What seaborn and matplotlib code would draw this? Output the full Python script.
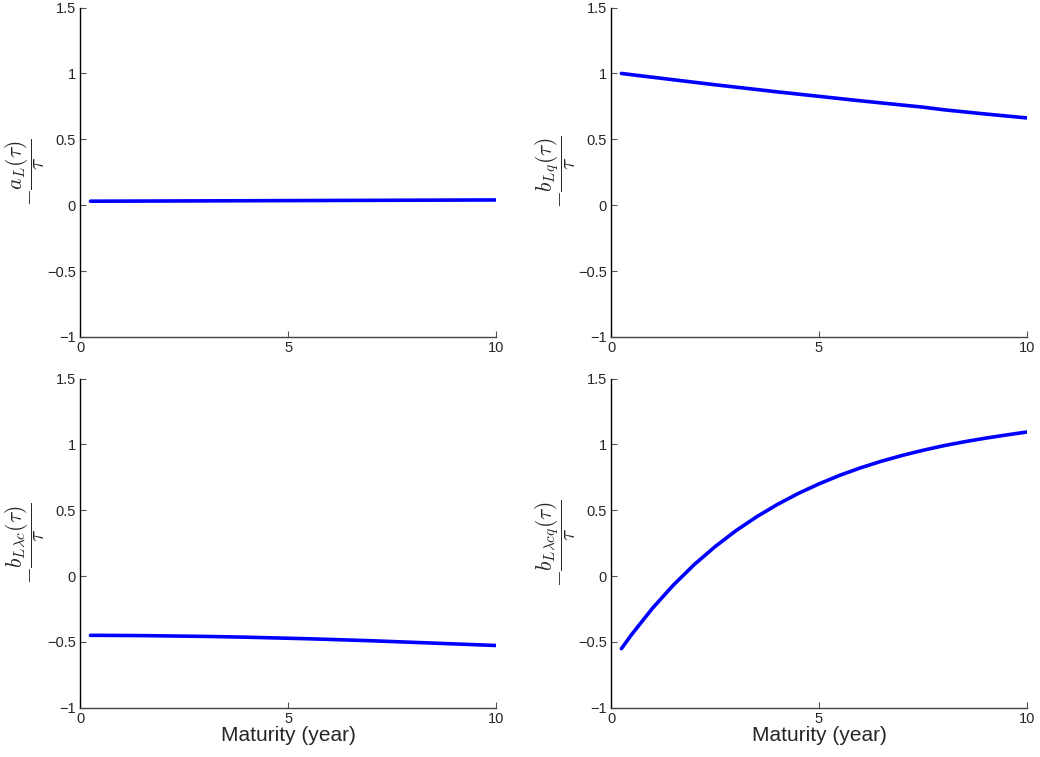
"""
Loadings of the L factor across maturities (MATLAB-style 2x2 panel)
"""

import matplotlib
matplotlib.use('Agg')
import matplotlib.pyplot as plt
import seaborn as sns
import pandas as pd

sns.set_style('ticks')
plt.rcParams['font.family'] = ['Liberation Sans', 'DejaVu Sans']
plt.rcParams['mathtext.fontset'] = 'cm'

maturity = [0.25, 0.5, 1, 1.5, 2, 2.5, 3, 3.5, 4, 4.5, 5,
            5.5, 6, 6.5, 7, 7.5, 8, 8.5, 9, 9.5, 10]

a_L = [0.0300, 0.0302, 0.0305, 0.0310, 0.0315, 0.0320, 0.0325, 0.0330, 0.0335, 0.0340, 0.0345,
       0.0350, 0.0355, 0.0360, 0.0365, 0.0370, 0.0375, 0.0380, 0.0385, 0.0390, 0.0395]
b_Lq = [1.000, 0.990, 0.971, 0.952, 0.933, 0.914, 0.896, 0.878, 0.860, 0.843, 0.826,
        0.809, 0.792, 0.776, 0.760, 0.744, 0.724, 0.708, 0.692, 0.677, 0.662]
b_Llc = [-0.450, -0.450, -0.451, -0.452, -0.454, -0.456, -0.458, -0.461, -0.464, -0.468, -0.472,
         -0.476, -0.481, -0.486, -0.491, -0.497, -0.503, -0.509, -0.515, -0.521, -0.527]
b_Llcq = [-0.551, -0.442, -0.243, -0.068, 0.087, 0.223, 0.344, 0.450, 0.544, 0.627, 0.700,
          0.765, 0.822, 0.872, 0.916, 0.955, 0.990, 1.020, 1.047, 1.071, 1.094]

ylabels = [r'$-\dfrac{a_L(\tau)}{\tau}$', r'$-\dfrac{b_{Lq}(\tau)}{\tau}$',
           r'$-\dfrac{b_{L\lambda c}(\tau)}{\tau}$', r'$-\dfrac{b_{L\lambda cq}(\tau)}{\tau}$']
yticks = [-1, -0.5, 0, 0.5, 1, 1.5]
yticklabels = ['\u22121', '\u22120.5', '0', '0.5', '1', '1.5']
xticks = [0, 5, 10]

series = [a_L, b_Lq, b_Llc, b_Llcq]

fig = plt.figure(figsize=(10.4, 7.57), dpi=100)
positions = [
    [0.077, 0.555, 0.400, 0.435],
    [0.5875, 0.555, 0.400, 0.435],
    [0.077, 0.065, 0.400, 0.435],
    [0.5875, 0.065, 0.400, 0.435],
]

for i, (vals, pos) in enumerate(zip(series, positions)):
    ax = fig.add_axes(pos)
    df = pd.DataFrame({'maturity': maturity, 'value': vals})
    sns.lineplot(data=df, x='maturity', y='value', ax=ax, color='#0000FF', linewidth=2.6)
    ax.set_xlim(0, 10)
    ax.set_ylim(-1, 1.5)
    ax.set_xticks(xticks)
    ax.set_xticklabels([str(t) for t in xticks])
    ax.set_yticks(yticks)
    ax.set_yticklabels(yticklabels)
    ax.tick_params(direction='in', length=4, width=0.8, labelsize=10.5,
                   color='#555555', pad=3)
    sns.despine(ax=ax)
    ax.spines['left'].set_linewidth(1.0)
    ax.spines['left'].set_color('black')
    ax.spines['bottom'].set_linewidth(1.0)
    ax.spines['bottom'].set_color('#444444')
    ax.set_ylabel(ylabels[i], fontsize=15.5)
    ax.yaxis.set_label_coords(-0.08, 0.5)
    if i >= 2:
        ax.set_xlabel('Maturity (year)', fontsize=15, labelpad=0)
    else:
        ax.set_xlabel('')

plt.savefig('out.png', dpi=100)
plt.close()
